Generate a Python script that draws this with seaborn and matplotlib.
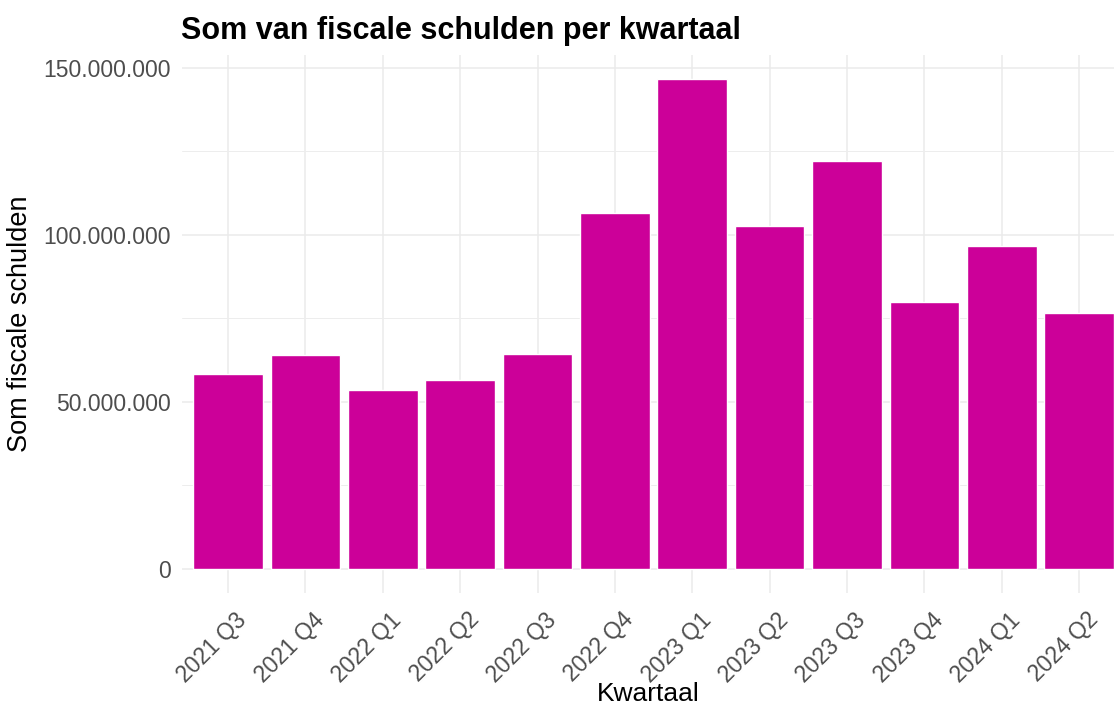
import numpy as np
import pandas as pd
import seaborn as sns
import matplotlib.pyplot as plt
from matplotlib.ticker import FuncFormatter, MultipleLocator
import matplotlib.transforms as mtrans

kwartalen = ["2021 Q3", "2021 Q4", "2022 Q1", "2022 Q2", "2022 Q3", "2022 Q4",
             "2023 Q1", "2023 Q2", "2023 Q3", "2023 Q4", "2024 Q1", "2024 Q2"]
schulden = [58.3e6, 63.9e6, 53.6e6, 56.5e6, 64.3e6, 106.4e6,
            146.6e6, 102.6e6, 122.0e6, 79.8e6, 96.5e6, 76.4e6]

df = pd.DataFrame({"Kwartaal": kwartalen, "Schulden": schulden})

sns.set_theme(style="whitegrid")
plt.rcParams["font.family"] = ["Liberation Sans", "DejaVu Sans"]

fig = plt.figure(figsize=(11.14, 7.09), dpi=100)
W, H = 1114, 709
ax = fig.add_axes([181.6 / W, 1 - 593 / H, (1114 - 181.6) / W, (593 - 54.5) / H])

sns.barplot(data=df, x="Kwartaal", y="Schulden", color="#CC0099",
            saturation=1, width=0.9, ax=ax, zorder=3)

ax.set_xlim(-0.6, 11.45)
ymax = max(schulden) * 1.05
ax.set_ylim(-max(schulden) * 0.05, ymax)

ax.yaxis.set_major_locator(MultipleLocator(50e6))
ax.yaxis.set_minor_locator(MultipleLocator(25e6))
ax.yaxis.set_major_formatter(FuncFormatter(lambda v, p: f"{int(round(v)):,}".replace(",", ".")))

for s in ax.spines.values():
    s.set_visible(False)
ax.grid(which="major", color="#EBEBEB", linewidth=1.1, zorder=0)
ax.grid(which="minor", axis="y", color="#EDEDED", linewidth=0.7, zorder=0)
ax.set_axisbelow(True)

ax.tick_params(axis="both", which="both", length=0, colors="#4D4D4D", labelsize=16.5)
ax.tick_params(axis="y", pad=8)
ax.tick_params(axis="x", pad=11)

offset = mtrans.ScaledTranslation(7 / 100, 0, fig.dpi_scale_trans)
for lab in ax.get_xticklabels():
    lab.set_rotation(45)
    lab.set_ha("right")
    lab.set_va("top")
    lab.set_rotation_mode("anchor")
    lab.set_transform(lab.get_transform() + offset)

ax.set_xlabel("Kwartaal", fontsize=19, color="black", labelpad=-3)
ax.set_ylabel("Som fiscale schulden", fontsize=19.5, color="black", labelpad=7)

fig.text(181 / W, 1 - 31 / H, "Som van fiscale schulden per kwartaal",
         fontsize=22, fontweight="bold", color="black", ha="left", va="center")

fig.savefig("out.png", dpi=100, facecolor="white")
